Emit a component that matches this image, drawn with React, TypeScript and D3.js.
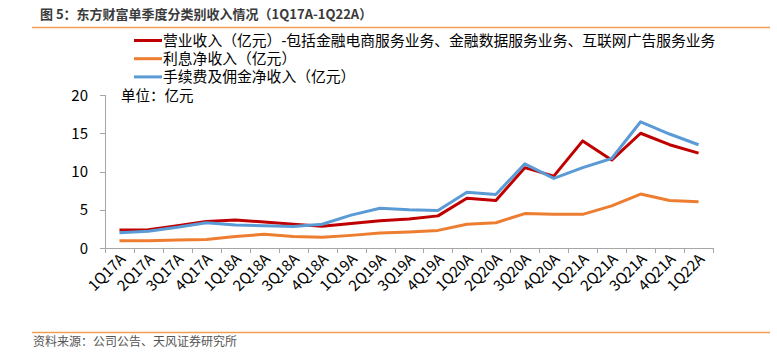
import React from "react";
import * as d3 from "d3";

const categories = ["1Q17A","2Q17A","3Q17A","4Q17A","1Q18A","2Q18A","3Q18A","4Q18A","1Q19A","2Q19A","3Q19A","4Q19A","1Q20A","2Q20A","3Q20A","4Q20A","1Q21A","2Q21A","3Q21A","4Q21A","1Q22A"];
const revenue = [2.35,2.4,2.9,3.45,3.65,3.4,3.1,2.85,3.2,3.55,3.8,4.2,6.5,6.2,10.5,9.4,14.0,11.5,15.0,13.5,12.4];
const interest = [0.95,0.95,1.05,1.1,1.5,1.8,1.5,1.4,1.65,1.95,2.1,2.3,3.1,3.3,4.5,4.4,4.4,5.5,7.05,6.2,6.05];
const fees = [2.0,2.2,2.7,3.3,3.0,2.9,2.8,3.1,4.3,5.2,5.0,4.9,7.3,7.0,11.0,9.1,10.5,11.7,16.5,14.9,13.5];
const yTicks = [0,5,10,15,20];
const seriesNames = [
  "营业收入（亿元）-包括金融电商服务业务、金融数据服务业务、互联网广告服务业务",
  "利息净收入（亿元）",
  "手续费及佣金净收入（亿元）",
];
const colors = ["#C00000", "#ED7D31", "#5B9BD5"];
const title = "图 5：东方财富单季度分类别收入情况（1Q17A-1Q22A）";
const source = "资料来源：公司公告、天风证券研究所";
const unit = "单位：亿元";

export default function App() {
  const W = 777, H = 352;
  const x0 = 105, x1 = 713, yTop = 95, yBot = 248;
  const x = d3.scaleBand<string>().domain(categories).range([x0, x1]);
  const y = d3.scaleLinear().domain([0, 20]).range([yBot, yTop]);
  const line = d3.line<number>()
    .x((_, i) => (x(categories[i]) as number) + x.bandwidth() / 2)
    .y((d) => y(d));
  const data = [revenue, interest, fees];
  const font = "'Microsoft YaHei','Noto Sans CJK SC','DejaVu Sans',sans-serif";
  const legendFont = "'Liberation Sans','Noto Sans CJK SC',sans-serif";
  const tickXs = categories.map((c) => x(c) as number).concat([x1]);
  return (
    <svg width={W} height={H} style={{ position: "absolute", left: 0, top: 0, background: "#fff" }} fontFamily={font}>
      <rect width={W} height={H} fill="#fff" />
      <text x={40} y={19} fontSize={13} fontWeight="bold" fill="#3a3a3a">{title}</text>
      <line x1={32} x2={770} y1={27.5} y2={27.5} stroke="#F0A050" strokeWidth={1.5} />
      {/* legend */}
      {seriesNames.map((n, i) => {
        const ly = 40.5 + i * 18.2;
        return (
          <g key={n}>
            <line x1={134} x2={162} y1={ly} y2={ly} stroke={colors[i]} strokeWidth={3} />
            <text x={163} y={ly + 5} fontSize={14.8} fill="#000" fontFamily={legendFont}>{n}</text>
          </g>
        );
      })}
      <text x={121} y={101} fontSize={14.5} fill="#000">{unit}</text>
      {/* y axis */}
      <line x1={x0 + 0.5} x2={x0 + 0.5} y1={yTop} y2={yBot} stroke="#A6A6A6" />
      {yTicks.map((t) => (
        <g key={t}>
          <line x1={x0 - 5} x2={x0} y1={Math.round(y(t)) + 0.5} y2={Math.round(y(t)) + 0.5} stroke="#A6A6A6" />
          <text x={88} y={y(t) + 5.5} fontSize={15} textAnchor="end" fill="#000">{t}</text>
        </g>
      ))}
      {/* x axis */}
      <line x1={x0} x2={x1} y1={yBot + 0.5} y2={yBot + 0.5} stroke="#A6A6A6" />
      {tickXs.map((tx, i) => (
        <line key={i} x1={Math.round(tx) + 0.5} x2={Math.round(tx) + 0.5} y1={yBot} y2={yBot + 5} stroke="#A6A6A6" />
      ))}
      {categories.map((c) => {
        const cx = (x(c) as number) + x.bandwidth() / 2 + 7;
        const cy = yBot + 12;
        return (
          <text key={c} x={cx} y={cy} fontSize={15} textAnchor="end" fill="#000" transform={`rotate(-45 ${cx} ${cy})`}>{c}</text>
        );
      })}
      {data.map((d, i) => (
        <path key={i} d={line(d) as string} fill="none" stroke={colors[i]} strokeWidth={3} strokeLinejoin="round" />
      ))}
      <line x1={32} x2={770} y1={332.5} y2={332.5} stroke="#F0A050" strokeWidth={1.5} />
      <text x={33} y={346} fontSize={12} fill="#555">{source}</text>
    </svg>
  );
}
